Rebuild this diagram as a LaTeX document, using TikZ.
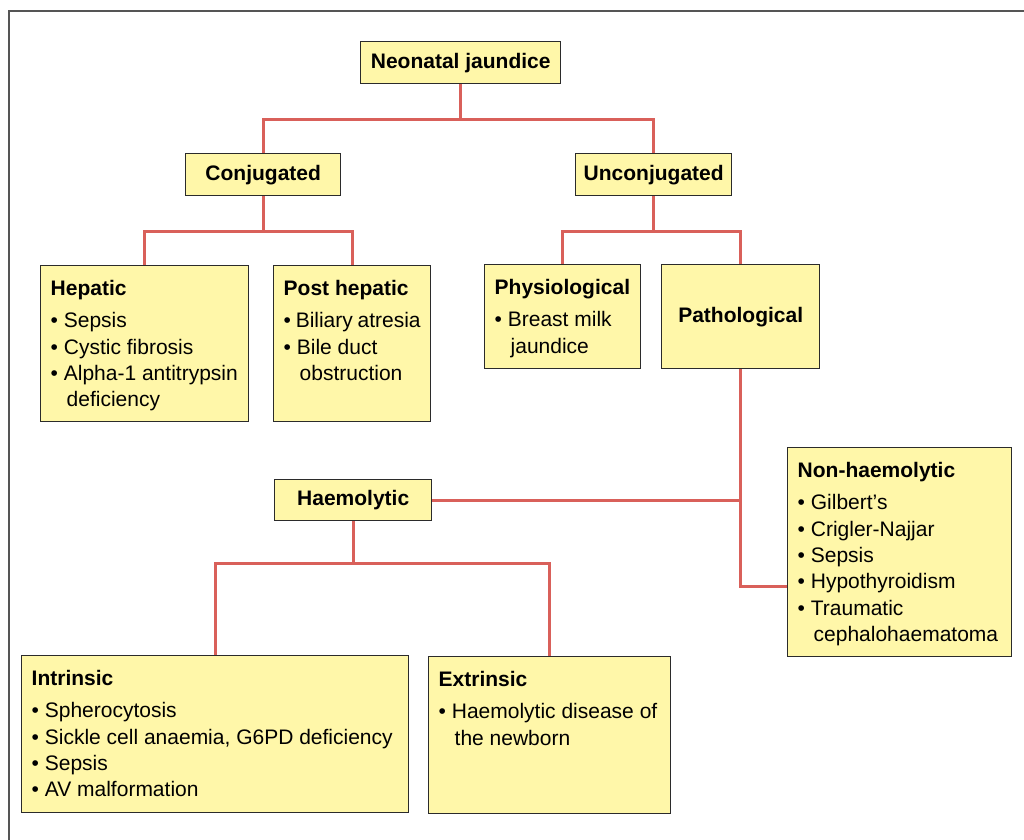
\documentclass[tikz,border=0pt]{standalone}
\usepackage{fontspec}
\setmainfont{Liberation Sans}
\usetikzlibrary{calc,backgrounds}

\definecolor{boxfill}{HTML}{FFF7A9}
\definecolor{linkred}{HTML}{D9605A}
\definecolor{boxline}{HTML}{2B2B2B}
\newcommand{\boxtext}[3]{\parbox[t][#2][t]{#1}{#3}}
\newcommand{\cont}{\hspace*{8pt}}

\begin{document}
\begin{tikzpicture}[x=0.5pt, y=-0.5pt,
    every node/.style={font=\fontsize{10.5pt}{13.15pt}\selectfont},
    box/.style={draw=boxline, line width=0.7pt, fill=boxfill, anchor=north west},
    headbox/.style={box, inner sep=0pt, font=\fontsize{10.5pt}{13.15pt}\selectfont\bfseries},
    listbox/.style={box, inner xsep=5pt, inner ysep=7.5pt},
    link/.style={draw=linkred, line width=1.5pt}
]
\useasboundingbox (0,0) rectangle (1024,840);

% Frame
\draw[boxline!80, line width=0.75pt] (9,840) -- (9,11) -- (1024,11);

% Top levels
\node[headbox, minimum width=100pt, minimum height=21pt] (neonatal) at (360,41) {Neonatal jaundice};
\node[headbox, minimum width=77.5pt, minimum height=21pt] (conj) at (185,153) {Conjugated};
\node[headbox, minimum width=78pt, minimum height=21pt] (unconj) at (575,153) {Unconjugated};

% Conjugated branch
\node[listbox] (hepatic) at (40,265) {\boxtext{94pt}{63pt}{\textbf{Hepatic}\\[2.85pt]
• Sepsis\\
• Cystic fibrosis\\
• Alpha-1 antitrypsin\\
\cont deficiency}};
\node[listbox] (posthep) at (273,265) {\boxtext{68.5pt}{63pt}{\textbf{Post hepatic}\\[2.85pt]
• Biliary atresia\\
• Bile duct\\
\cont obstruction}};

% Unconjugated branch
\node[listbox] (physio) at (484,264) {\boxtext{68pt}{37pt}{\textbf{Physiological}\\[2.85pt]
• Breast milk\\
\cont jaundice}};
\node[headbox, minimum width=79pt, minimum height=52pt] (patho) at (661,264) {Pathological};

% Pathological branch
\node[listbox] (nonhaem) at (787,447) {\boxtext{102pt}{89.5pt}{\textbf{Non-haemolytic}\\[2.85pt]
• Gilbert’s\\
• Crigler-Najjar\\
• Sepsis\\
• Hypothyroidism\\
• Traumatic\\
\cont cephalohaematoma}};
\node[headbox, minimum width=78.5pt, minimum height=20.5pt] (haem) at (274,479) {Haemolytic};

% Haemolytic branch
\node[listbox] (intrinsic) at (21,655) {\boxtext{183.5pt}{63.5pt}{\textbf{Intrinsic}\\[2.85pt]
• Spherocytosis\\
• Sickle cell anaemia, G6PD deficiency\\
• Sepsis\\
• AV malformation}};
\node[listbox] (extrinsic) at (428,656) {\boxtext{111pt}{63.5pt}{\textbf{Extrinsic}\\[2.85pt]
• Haemolytic disease of\\
\cont the newborn}};

% Connectors
\begin{scope}[on background layer]
\draw[link] (neonatal) -- (neonatal |- 0,120) -| (conj);
\draw[link] (neonatal |- 0,120) -| (unconj);
\draw[link] (conj) -- (conj |- 0,232) -| (hepatic);
\draw[link] (conj |- 0,232) -| (posthep);
\draw[link] (unconj) -- (unconj |- 0,232) -| (physio);
\draw[link] (unconj |- 0,232) -| (patho);
\draw[link] (patho) |- (nonhaem.west |- 0,586);
\draw[link] (haem) -- (haem -| patho);
\draw[link] (haem) -- (haem |- 0,563) -| (intrinsic);
\draw[link] (haem |- 0,563) -| (extrinsic);
\end{scope}

\end{tikzpicture}
\end{document}
